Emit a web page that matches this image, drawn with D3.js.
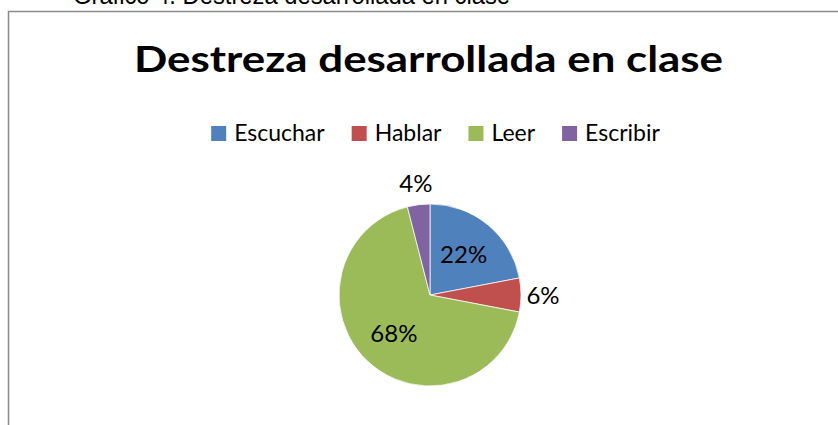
<!DOCTYPE html>
<html>
<head>
<meta charset="utf-8">
<title>Destreza desarrollada en clase</title>
<style>
body { margin: 0; background: #fff; }
svg { display: block; }
text { fill: #000; }
.caption { font: 25px "Liberation Sans", Arial, sans-serif; }
.title { font: bold 36px Lato, "Open Sans", sans-serif; }
.legend text { font: 23px Lato, "Open Sans", sans-serif; }
.label { font: 24px Lato, "Open Sans", sans-serif; }
</style>
</head>
<body>
<script src="https://cdn.jsdelivr.net/npm/d3@7/dist/d3.min.js"></script>
<script>

var categories = ["Escuchar", "Hablar", "Leer", "Escribir"];
var percents = [22, 6, 68, 4];
var colours = ["#4F81BD", "#C0504D", "#9BBB59", "#8064A2"];

var width = 838,
    height = 425;

var svg = d3.select("body").append("svg")
    .attr("width", width)
    .attr("height", height);

// caption above the frame, cut off by the page top as in the source
svg.append("text")
    .attr("class", "caption")
    .attr("x", 73)
    .attr("y", 4)
    .attr("textLength", 437)
    .attr("lengthAdjust", "spacingAndGlyphs")
    .text("Gráfico 4. Destreza desarrollada en clase");

// chart frame (right and bottom run off the page)
svg.append("rect")
    .attr("x", 8.5)
    .attr("y", 11.5)
    .attr("width", 900)
    .attr("height", 500)
    .style("fill", "none")
    .style("stroke", "#8a8a8a")
    .style("stroke-width", 1.5);

svg.append("text")
    .attr("class", "title")
    .attr("x", 428.5)
    .attr("y", 72)
    .attr("text-anchor", "middle")
    .attr("textLength", 589)
    .attr("lengthAdjust", "spacingAndGlyphs")
    .text("Destreza desarrollada en clase");

// legend, laid out from measured text widths and centred
var colour = d3.scaleOrdinal().domain(categories).range(colours);
var legend = svg.append("g").attr("class", "legend");
var items = legend.selectAll("g")
    .data(categories)
    .enter().append("g");

items.append("rect")
    .attr("width", 15)
    .attr("height", 15)
    .attr("y", 126)
    .style("fill", function(d) { return colour(d); });

items.append("text")
    .attr("x", 23)
    .attr("y", 141)
    .text(function(d) { return d; });

var xpos = 0;
items.each(function() {
  var w = d3.select(this).select("text").node().getComputedTextLength();
  this.__x = xpos;
  xpos += 23 + w + 27;
});
var total = xpos - 27;
var start = 435.5 - total / 2;
items.attr("transform", function() { return "translate(" + (start + this.__x) + ",0)"; });

// pie
var cx = 430, cy = 295, r = 91;

var pie = d3.pie().sort(null).value(function(d) { return d; });
var arcs = pie(percents);
var arc = d3.arc().innerRadius(0).outerRadius(r);

var g = svg.append("g")
    .attr("transform", "translate(" + cx + "," + cy + ")");

g.selectAll("path")
    .data(arcs)
    .enter().append("path")
    .attr("d", arc)
    .style("fill", function(d, i) { return colour(categories[i]); })
    .style("stroke", "#fff")
    .style("stroke-width", 0.75);

// small slices get their label outside, the big ones inside
var inner = d3.arc().innerRadius(r * 0.58).outerRadius(r * 0.58);
var outer = d3.arc().innerRadius(r + 22).outerRadius(r + 22);

g.selectAll("text.label")
    .data(arcs)
    .enter().append("text")
    .attr("class", "label")
    .attr("text-anchor", "middle")
    .attr("dy", "0.36em")
    .attr("transform", function(d) {
      var p = (d.data < 10 ? outer : inner).centroid(d);
      return "translate(" + p[0] + "," + p[1] + ")";
    })
    .text(function(d) { return d.data + "%"; });

</script>
</body>
</html>
